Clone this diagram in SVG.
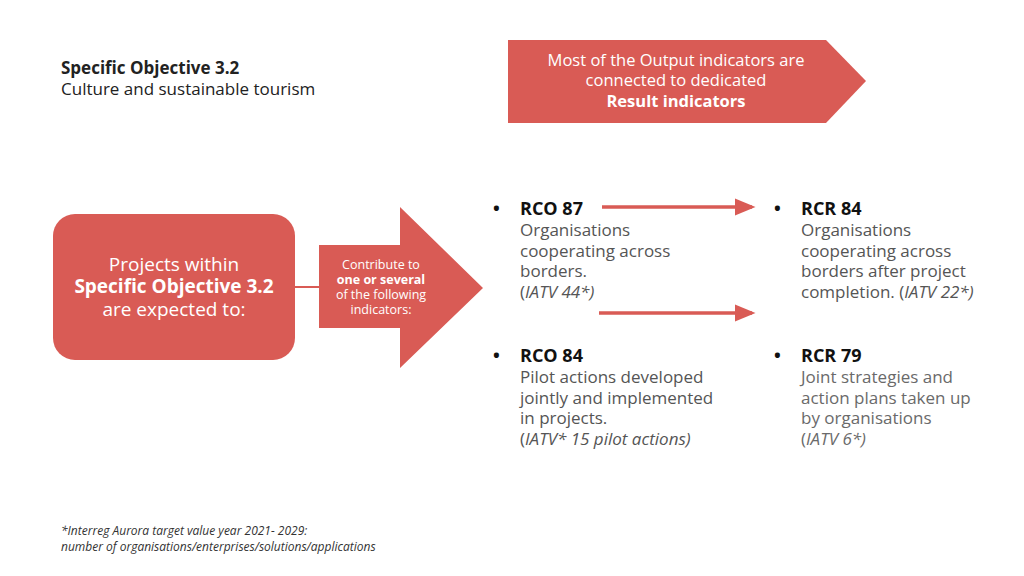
<svg xmlns="http://www.w3.org/2000/svg" width="1024" height="576" viewBox="0 0 1024 576">
<style>
text{font-family:"Open Sans","Noto Sans",sans-serif}
.h{font-size:17px;fill:#222}
.w{fill:#fff}
.b{font-weight:bold}
.id{font-size:18px;font-weight:bold;fill:#111}
.t{font-size:17px;fill:#555}
.i{font-style:italic}
.red{fill:#d95b55}
</style>
<defs><marker id="ah" markerWidth="6" markerHeight="5" refX="5" refY="2.5" orient="auto" markerUnits="strokeWidth"><path d="M0,0 L6,2.5 L0,5z" fill="#d95b55"/></marker></defs>
<rect width="1024" height="576" fill="#fff"/>
<g id="title"><text class="h b" x="61" y="74">Specific Objective 3.2</text><text class="h" x="61" y="95">Culture and sustainable tourism</text></g>
<g id="banner"><path class="red" d="M508,40 H826 L866,81 L826,123 H508z"/>
<text class="w" font-size="16.5" text-anchor="middle"><tspan x="676" y="66">Most of the Output indicators are</tspan><tspan x="676" y="86">connected to dedicated</tspan><tspan x="676" y="107" class="b">Result indicators</tspan></text></g>
<g id="projects"><rect class="red" x="53" y="214" width="242" height="146" rx="22"/>
<text class="w" font-size="19" text-anchor="middle"><tspan x="174" y="271">Projects within</tspan><tspan x="174" y="293" class="b">Specific Objective 3.2</tspan><tspan x="174" y="316">are expected to:</tspan></text></g>
<g id="contribute"><path class="red" d="M319,245 H400 V207 L483,288 L400,368 V328 H319z"/>
<text class="w" font-size="12.5" text-anchor="middle"><tspan x="381" y="269">Contribute to</tspan><tspan x="381" y="284" class="b">one or several</tspan><tspan x="381" y="299">of the following</tspan><tspan x="381" y="314">indicators:</tspan></text></g>
<g id="connectors" stroke="#d95b55" stroke-width="3.5" fill="none">
<line x1="295" y1="287" x2="319" y2="287" stroke-width="2"/>
<line x1="602" y1="207" x2="752" y2="207" marker-end="url(#ah)"/>
<line x1="599" y1="313" x2="752" y2="313" marker-end="url(#ah)"/>
</g>
<g id="rco87"><text class="id" x="493" y="215">•</text><text class="id" x="520" y="215">RCO 87</text>
<text class="t"><tspan x="520" y="236">Organisations</tspan><tspan x="520" y="257">cooperating across</tspan><tspan x="520" y="277">borders.</tspan><tspan x="520" y="298">(<tspan class="i">IATV 44*)</tspan></tspan></text></g>
<g id="rcr84"><text class="id" x="774" y="215">•</text><text class="id" x="801" y="215">RCR 84</text>
<text class="t"><tspan x="801" y="236">Organisations</tspan><tspan x="801" y="257">cooperating across</tspan><tspan x="801" y="277">borders after project</tspan><tspan x="801" y="298">completion. (<tspan class="i">IATV 22*)</tspan></tspan></text></g>
<g id="rco84"><text class="id" x="493" y="362">•</text><text class="id" x="520" y="362">RCO 84</text>
<text class="t"><tspan x="520" y="383">Pilot actions developed</tspan><tspan x="520" y="404">jointly and implemented</tspan><tspan x="520" y="424">in projects.</tspan><tspan x="520" y="445">(<tspan class="i">IATV* 15 pilot actions)</tspan></tspan></text></g>
<g id="rcr79"><text class="id" x="774" y="362">•</text><text class="id" x="801" y="362">RCR 79</text>
<text class="t" style="fill:#6a6a6a"><tspan x="801" y="383">Joint strategies and</tspan><tspan x="801" y="404">action plans taken up</tspan><tspan x="801" y="424">by organisations</tspan><tspan x="801" y="445">(<tspan class="i">IATV 6*)</tspan></tspan></text></g>
<g id="footnote"><text font-size="12" font-style="italic" fill="#333"><tspan x="61" y="535">*Interreg Aurora target value year 2021- 2029:</tspan><tspan x="61" y="551">number of organisations/enterprises/solutions/applications</tspan></text></g>
</svg>
